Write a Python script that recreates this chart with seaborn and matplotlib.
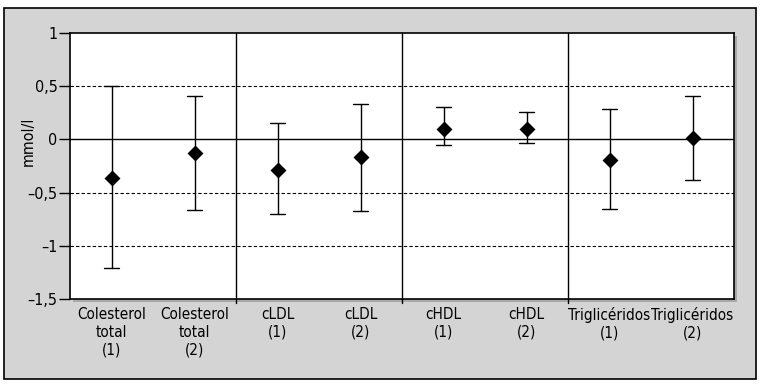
import numpy as np
import pandas as pd
import matplotlib
matplotlib.use("Agg")
import matplotlib.pyplot as plt
import matplotlib.patches as mpatches
import seaborn as sns

# ---- datos ----
categorias = ["Colesterol\ntotal\n(1)", "Colesterol\ntotal\n(2)", "cLDL\n(1)", "cLDL\n(2)",
              "cHDL\n(1)", "cHDL\n(2)", "Triglicéridos\n(1)", "Triglicéridos\n(2)"]
media = [-0.36, -0.13, -0.29, -0.17, 0.10, 0.10, -0.19, 0.01]
inferior = [-1.21, -0.66, -0.70, -0.675, -0.055, -0.035, -0.65, -0.385]
superior = [0.505, 0.41, 0.15, 0.335, 0.30, 0.26, 0.29, 0.41]
yticks = [-1.5, -1, -0.5, 0, 0.5, 1]

# tabla larga: límite inferior, media y límite superior por categoría
df = pd.DataFrame({
    "cat": np.repeat(categorias, 3),
    "valor": np.ravel(np.column_stack([inferior, media, superior])),
})

sns.set_style("white")
plt.rcParams['font.family'] = ['DejaVu Sans']
plt.rcParams['font.stretch'] = 'condensed'
plt.rcParams['text.color'] = 'black'
plt.rcParams['xtick.color'] = 'black'
plt.rcParams['ytick.color'] = 'black'
plt.rcParams['axes.labelcolor'] = 'black'

W, H = 761, 385
fig = plt.figure(figsize=(W / 100, H / 100), dpi=100)
fig.patch.set_facecolor("white")

# marco exterior gris
fig.patches.append(mpatches.Rectangle((4 / W, 1 - 379 / H), 752 / W, 371 / H,
                                      transform=fig.transFigure, facecolor="#d4d4d4",
                                      edgecolor="black", linewidth=1.2, zorder=-2))
# sombra del área de trazado
fig.patches.append(mpatches.Rectangle((73 / W, 1 - 302 / H), 664 / W, 266 / H,
                                      transform=fig.transFigure, facecolor="#a8a8a8",
                                      edgecolor="none", zorder=-1))

ax = fig.add_axes([70 / W, 1 - 299 / H, 664 / W, 266 / H])
ax.set_zorder(2)
ax.set_facecolor("white")

sns.pointplot(data=df, x="cat", y="valor", estimator="median", errorbar=("pi", 100),
              linestyle="none", markers="D", color="black", markersize=6,
              capsize=0.18, err_kws={"linewidth": 1.0}, ax=ax, zorder=5)

ax.set_ylim(-1.5, 1)
ax.set_xlim(-0.5, len(categorias) - 0.5)
ax.set_yticks(yticks)
ax.set_yticklabels([("%g" % v).replace("-", "\u2013").replace(".", ",") for v in yticks],
                   fontsize=11.5)
ax.tick_params(axis="y", length=8, width=1, pad=1, left=True)
ax.tick_params(axis="x", length=0, pad=6, labelsize=11)
for t in ax.get_xticklabels():
    t.set_linespacing(1.2)
ax.set_xlabel("")
ax.set_ylabel("mmol/l", fontsize=11.5)
ax.yaxis.set_label_coords(-0.052, 0.594)

for v in [-1, -0.5, 0.5]:
    ax.axhline(v, color="black", linestyle=(0, (3, 2)), linewidth=0.8, zorder=1)
ax.axhline(0, color="black", linewidth=1.0, zorder=1)
for xs in [1.5, 3.5, 5.5]:
    ax.axvline(xs, ymin=-0.015, ymax=1, color="black", linewidth=1.0, zorder=1, clip_on=False)

for s in ax.spines.values():
    s.set_color("black")
    s.set_linewidth(1.2)

fig.savefig("out.png", dpi=100)
